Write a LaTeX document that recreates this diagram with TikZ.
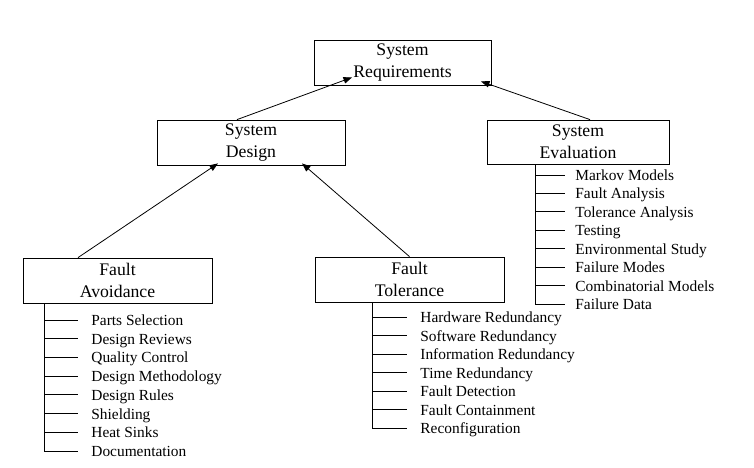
\documentclass[tikz,border=0pt]{standalone}
\usepackage{fontspec}
\setmainfont{Liberation Serif}
\usetikzlibrary{arrows.meta}
\begin{document}
\begin{tikzpicture}[x=1pt,y=-1pt,
  line width=0.8pt,
  box/.style={draw, rectangle, align=center, inner sep=0pt,
    font=\fontsize{17.7}{21.7}\selectfont},
  item/.style={anchor=west, inner ysep=0pt, text height=11pt, text depth=0pt,
    font=\fontsize{15.4}{18}\selectfont},
  arr/.style={-{Triangle[length=8.5pt,width=6.5pt]}}]
\useasboundingbox (0,0) rectangle (754,467);
\fill[white] (0,0) rectangle (754,467);
% boxes
\node[box, minimum width=177pt, minimum height=45pt] (sr) at (402.5,62.5) {System\\Requirements};
\node[box, minimum width=188pt, minimum height=45pt] (sd) at (251,142.5) {System\\Design};
\node[box, minimum width=182pt, minimum height=44pt] (se) at (578,142) {System\\Evaluation};
\node[box, minimum width=189pt, minimum height=45pt] (fa) at (117.5,280.5) {Fault\\Avoidance};
\node[box, minimum width=189pt, minimum height=45pt] (ft) at (409.5,279.5) {Fault\\Tolerance};
% arrows
\draw[arr] ([xshift=-14pt]sd.north) -- ([xshift=-50.5pt,yshift=8pt]sr.south);
\draw[arr] ([xshift=12pt]se.north) -- ([xshift=78.5pt,yshift=4pt]sr.south);
\draw[arr] ([xshift=-39.5pt]fa.north) -- ([xshift=-33pt,yshift=2pt]sd.south);
\draw[arr] ([xshift=0pt]ft.north) -- ([xshift=51pt,yshift=2pt]sd.south);
% Fault Avoidance list
\coordinate (fav) at (44,303);
\foreach \t [count=\i from 0] in {Parts Selection, Design Reviews, Quality Control,
  Design Methodology, Design Rules, Shielding, Heat Sinks, Documentation} {
  \node[item, inner xsep=13pt] (fa\i) at (78,{320+18.7*\i}) {\t};
  \draw (fa\i.west -| fav) -- (fa\i.west);
}
\draw (fa.south -| fav) -- (fa7.west -| fav);
% Fault Tolerance list
\coordinate (ftv) at (372,302);
\foreach \t [count=\i from 0] in {Hardware Redundancy, Software Redundancy,
  Information Redundancy, Time Redundancy, Fault Detection, Fault Containment,
  Reconfiguration} {
  \node[item, inner xsep=13pt] (ft\i) at (407,{317+18.5*\i}) {\t};
  \draw (ft\i.west -| ftv) -- (ft\i.west);
}
\draw (ft.south -| ftv) -- (ft6.west -| ftv);
% System Evaluation list
\coordinate (sev) at (535,164);
\foreach \t [count=\i from 0] in {Markov Models, Fault Analysis, Tolerance Analysis,
  Testing, Environmental Study, Failure Modes, Combinatorial Models, Failure Data} {
  \node[item, inner xsep=10pt] (se\i) at (565,{175+18.43*\i}) {\t};
  \draw (se\i.west -| sev) -- (se\i.west);
}
\draw (se.south -| sev) -- (se7.west -| sev);
\end{tikzpicture}
\end{document}
